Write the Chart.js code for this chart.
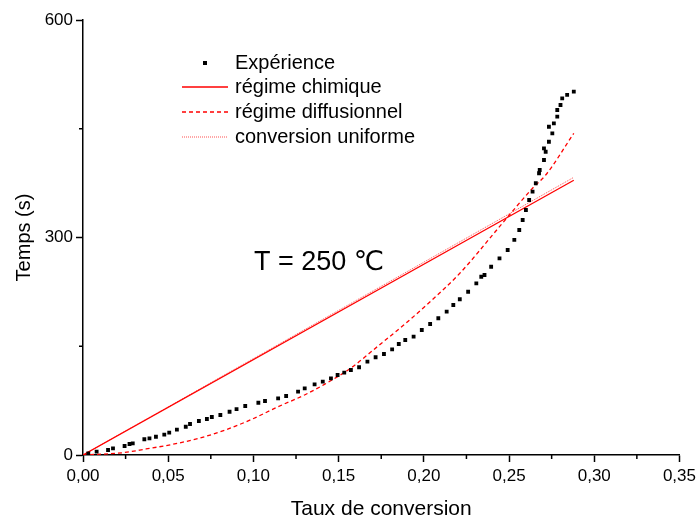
<!DOCTYPE html>
<html>
<head>
<meta charset="utf-8">
<script src="https://cdn.jsdelivr.net/npm/chart.js@4"></script>
<style>
  html, body { margin: 0; padding: 0; background: #fff; }
  #wrap { width: 700px; height: 525px; }
</style>
</head>
<body>
<div id="wrap"><canvas id="chart" width="700" height="525"></canvas></div>
<script>
const expX = [0.0031, 0.0080, 0.0147, 0.0176, 0.0244, 0.0273, 0.0292, 0.0360, 0.0390, 0.0428,
  0.0477, 0.0506, 0.0551, 0.0603, 0.0628, 0.0680, 0.0727, 0.0756, 0.0806, 0.0860,
  0.0901, 0.0952, 0.1029, 0.1068, 0.1145, 0.1192, 0.1262, 0.1301, 0.1359, 0.1407,
  0.1455, 0.1494, 0.1533, 0.1572, 0.1620, 0.1669, 0.1717, 0.1766, 0.1814, 0.1853,
  0.1891, 0.1940, 0.1988, 0.2037, 0.2085, 0.2134, 0.2173, 0.2211, 0.2260, 0.2308,
  0.2337, 0.2356, 0.2395, 0.2444, 0.2492, 0.2531, 0.2560, 0.2580, 0.2599, 0.2618,
  0.2638, 0.2657, 0.2676, 0.2680, 0.2705, 0.2715, 0.2705, 0.2734, 0.2754, 0.2734,
  0.2763, 0.2783, 0.2783, 0.2802, 0.2812, 0.2841, 0.2880];
const expT = [2.3, 4.6, 6.9, 9.2, 12.4, 15.2, 16.1, 21.7, 23.0, 25.2,
  28.0, 30.8, 34.9, 39.0, 42.8, 46.9, 49.7, 52.4, 55.2, 59.7,
  63.4, 67.6, 72.1, 74.5, 78.2, 81.4, 87.3, 92.0, 97.5, 101.1,
  105.8, 110.3, 113.5, 117.2, 121.0, 128.7, 134.8, 139.3, 145.8, 153.1,
  158.6, 163.2, 172.4, 180.7, 188.6, 197.7, 206.9, 214.8, 225.2, 236.8,
  245.9, 248.3, 259.7, 271.3, 282.8, 296.6, 310.3, 324.1, 337.9, 351.7,
  363.2, 374.8, 388.6, 393.1, 406.9, 418.3, 423.0, 432.1, 443.7, 452.8,
  457.5, 466.6, 475.9, 482.8, 492.0, 496.6, 501.1];

// model curves
const chimX = [0, 0.288];
const chimT = [0, 379];
const unifX = [0, 0.288];
const unifT = [0, 383];
const diffX = [0, 0.0234, 0.037, 0.0525, 0.068, 0.0835, 0.099, 0.1145, 0.130, 0.1417,
  0.157, 0.1727, 0.1882, 0.2037, 0.2211, 0.2444, 0.2638, 0.2715, 0.288];
const diffT = [0, 3.2, 8.3, 14.7, 23, 34.5, 49.2, 66.6, 82.8, 97.5,
  119.6, 149.4, 179.3, 211.4, 250.6, 314.9, 368, 386.2, 443.7];

const labels = ['Expérience', 'régime chimique', 'régime diffusionnel', 'conversion uniforme'];
const xTicks = [0, 0.05, 0.10, 0.15, 0.20, 0.25, 0.30, 0.35];
const xMinor = [0.025, 0.075, 0.125, 0.175, 0.225, 0.275, 0.325];
const yMinor = [150, 450];
const note = 'T = 250 \u2103';

const pts = (xs, ys) => xs.map((x, i) => ({ x: x, y: ys[i] }));
const FONT = "'Liberation Sans', Arial, 'DejaVu Sans', sans-serif";
const RED = '#ff0000';

// minor ticks + annotation + legend inside the plot
const extras = {
  id: 'extras',
  afterDraw(chart) {
    const ctx = chart.ctx;
    const xs = chart.scales.x, ys = chart.scales.y;
    ctx.save();
    ctx.strokeStyle = '#000';
    ctx.lineWidth = 1.5;
    xMinor.forEach((v) => {
      const px = xs.getPixelForValue(v);
      ctx.beginPath(); ctx.moveTo(px, ys.bottom); ctx.lineTo(px, ys.bottom + 4); ctx.stroke();
    });
    yMinor.forEach((v) => {
      const py = ys.getPixelForValue(v);
      ctx.beginPath(); ctx.moveTo(xs.left, py); ctx.lineTo(xs.left - 4, py); ctx.stroke();
    });

    ctx.fillStyle = '#000';
    ctx.font = '27px ' + FONT;
    ctx.textBaseline = 'middle';
    ctx.fillText(note, 254, 263);

    // legend
    ctx.font = '20px ' + FONT;
    const rows = [63, 87, 112, 137];
    chart.data.datasets.forEach((ds, i) => {
      const y = rows[i];
      if (i === 0) {
        ctx.fillStyle = '#000';
        ctx.fillRect(203, y - 2, 4, 4);
      } else {
        ctx.strokeStyle = ds.borderColor;
        ctx.lineWidth = ds.borderWidth;
        ctx.setLineDash(ds.borderDash || []);
        ctx.beginPath(); ctx.moveTo(182, y); ctx.lineTo(228, y); ctx.stroke();
        ctx.setLineDash([]);
      }
      ctx.fillStyle = '#000';
      ctx.fillText(ds.label, 235, y);
    });
    ctx.restore();
  }
};

new Chart(document.getElementById('chart'), {
  type: 'scatter',
  data: {
    datasets: [
      {
        label: labels[0],
        data: pts(expX, expT),
        showLine: false,
        pointStyle: 'rect',
        pointRadius: 2.7,
        borderWidth: 0,
        backgroundColor: '#000',
      },
      {
        label: labels[1],
        data: pts(chimX, chimT),
        showLine: true,
        borderColor: RED,
        borderWidth: 1.3,
        pointRadius: 0,
      },
      {
        label: labels[2],
        data: pts(diffX, diffT),
        showLine: true,
        borderColor: RED,
        borderWidth: 1.3,
        borderDash: [4, 3],
        cubicInterpolationMode: 'monotone',
        pointRadius: 0,
      },
      {
        label: labels[3],
        data: pts(unifX, unifT),
        showLine: true,
        borderColor: '#ff5050',
        borderWidth: 1,
        borderDash: [1, 1],
        pointRadius: 0,
      },
    ],
  },
  options: {
    responsive: false,
    animation: false,
    layout: { padding: { top: 20, right: 15, left: 0, bottom: 0 } },
    plugins: { legend: { display: false }, tooltip: { enabled: false } },
    scales: {
      x: {
        type: 'linear',
        min: 0,
        max: 0.35,
        afterBuildTicks: (s) => { s.ticks = xTicks.map((v) => ({ value: v })); },
        afterFit: (s) => { s.height = 70; },
        border: { display: true, color: '#000', width: 1.5 },
        grid: { drawOnChartArea: false, color: '#000', tickLength: 7, tickWidth: 1.5 },
        ticks: {
          color: '#000',
          font: { family: FONT, size: 17 },
          padding: 4,
          maxRotation: 0,
          callback: (v) => Number(v).toFixed(2).replace('.', ','),
        },
        title: {
          display: true,
          text: 'Taux de conversion',
          color: '#000',
          font: { family: FONT, size: 21 },
          padding: { top: 0, bottom: 3 },
        },
      },
      y: {
        type: 'linear',
        min: 0,
        max: 600,
        ticks: {
          stepSize: 300,
          color: '#000',
          font: { family: FONT, size: 17 },
          padding: 3,
        },
        afterFit: (s) => { s.width = 83; },
        border: { display: true, color: '#000', width: 1.5 },
        grid: { drawOnChartArea: false, color: '#000', tickLength: 7, tickWidth: 1.5 },
        title: {
          display: true,
          text: 'Temps (s)',
          color: '#000',
          font: { family: FONT, size: 20 },
          padding: { top: 12, bottom: 0 },
        },
      },
    },
  },
  plugins: [extras],
});
</script>
</body>
</html>
